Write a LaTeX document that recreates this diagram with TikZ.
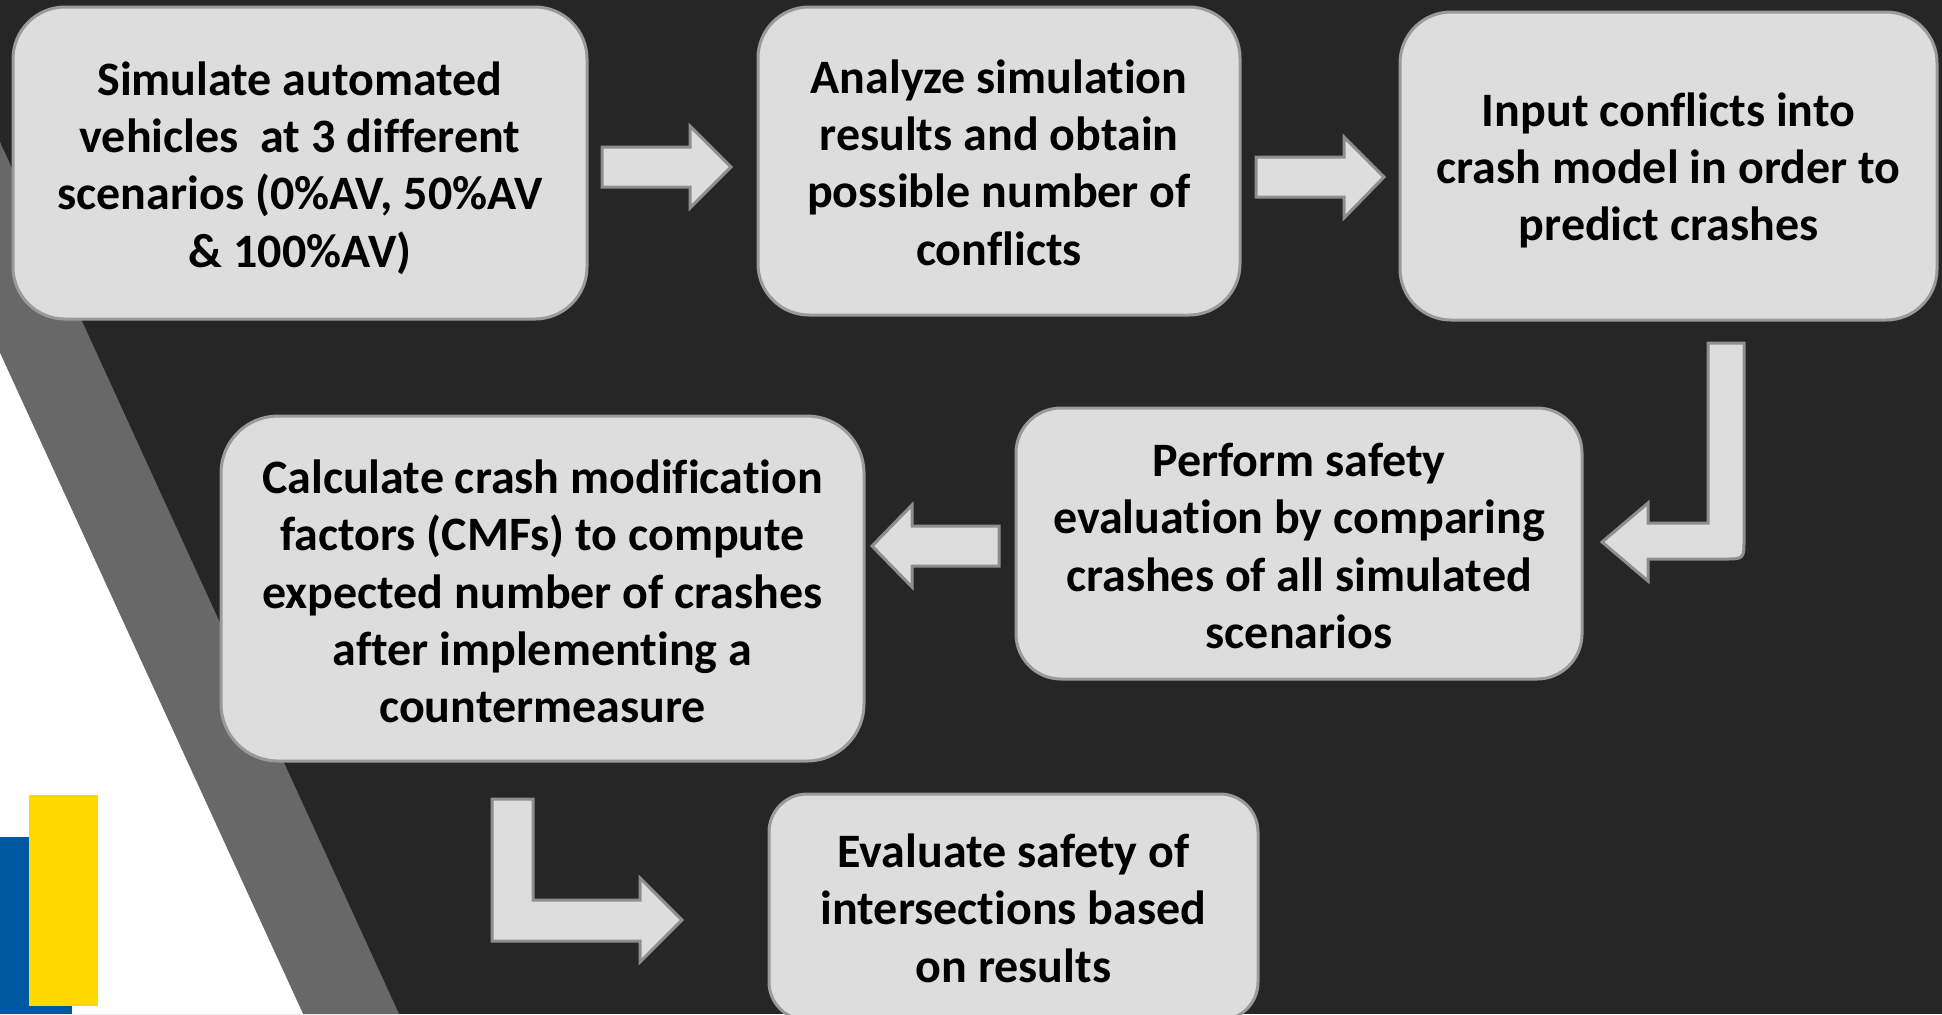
\documentclass[tikz,border=0pt]{standalone}
\usepackage{fontspec}
\setmainfont[Ligatures={NoCommon}]{Carlito}
\definecolor{bg}{HTML}{262626}
\definecolor{stripe}{HTML}{686868}
\definecolor{boxfill}{HTML}{DDDDDD}
\definecolor{boxedge}{HTML}{9A9A9A}
\definecolor{arrowedge}{HTML}{8E8E8E}
\definecolor{logoblue}{HTML}{0058A0}
\definecolor{logoyellow}{HTML}{FFD800}
\tikzset{
  stepbox/.style={draw=boxedge, fill=boxfill, line width=1.5pt, inner sep=0pt},
  steptext/.style={inner sep=0pt, align=center, font=\fontsize{24}{28.7}\selectfont\bfseries, text=black},
  blockarrow/.style={draw=arrowedge, fill=boxfill, line width=1.5pt, line join=miter}
}
\begin{document}
\begin{tikzpicture}[x=0.5pt,y=-0.5pt]
\useasboundingbox (0,0) rectangle (1942,1014);
\clip (0,0) rectangle (1942,1014);
% background
\fill[bg] (0,0) rectangle (1942,1014);
\fill[stripe] (0,142) -- (399,1014) -- (0,1014) -- cycle;
\fill[white] (0,353) -- (303,1014) -- (0,1014) -- cycle;
\fill[logoblue] (0,837) rectangle (72,1014);
\fill[logoyellow] (29,795) rectangle (98,1006);
% boxes
\node[stepbox, rounded corners=26pt, minimum width=287pt, minimum height=156pt] (b1) at (300,163) {};
\node[steptext] (t1) at (300,168)
  {Simulate automated\\vehicles\ \ at 3 different\\scenarios (0\%AV, 50\%AV\\\& 100\%AV)};
\node[stepbox, rounded corners=25.5pt, minimum width=241pt, minimum height=154pt] (b2) at (999,161) {};
\node[steptext] (t2) at (999,162.5)
  {Analyze simulation\\results and obtain\\possible number of\\conflicts};
\node[stepbox, rounded corners=25.5pt, minimum width=268.5pt, minimum height=154pt] (b3) at (1668.5,166) {};
\node[steptext] (t3) at (1668.5,170.5)
  {Input conflicts into\\crash model in order to\\predict crashes};
\node[stepbox, rounded corners=22.5pt, minimum width=283pt, minimum height=135.5pt] (b4) at (1299,543.5) {};
\node[steptext] (t4) at (1299,546)
  {Perform safety\\evaluation by comparing\\crashes of all simulated\\scenarios};
\node[stepbox, rounded corners=28.5pt, minimum width=321.5pt, minimum height=172.5pt] (b5) at (542.5,588.5) {};
\node[steptext] (t5) at (542.5,591.5)
  {Calculate crash modification\\factors (CMFs) to compute\\expected number of crashes\\after implementing a\\countermeasure};
\node[stepbox, rounded corners=19pt, minimum width=244.5pt, minimum height=113pt] (b6) at (1013.5,907) {};
\node[steptext] (t6) at (1013.5,908)
  {Evaluate safety of\\intersections based\\on results};
% block arrows
\draw[blockarrow] (602,147) -- (690,147) -- (690,126) -- (731,167) -- (690,208) -- (690,187) -- (602,187) -- cycle;
\draw[blockarrow] (1256,157) -- (1344,157) -- (1344,137) -- (1384,177) -- (1344,218) -- (1344,197) -- (1256,197) -- cycle;
\draw[blockarrow] (1708,343) -- (1744,343) -- (1744,539) .. controls (1744,559) .. (1724,559) -- (1648,559) -- (1648,581) -- (1602,542) -- (1648,503) -- (1648,523) -- (1708,523) -- cycle;
\draw[blockarrow] (999,526) -- (912,526) -- (912,505) -- (872,546) -- (912,587) -- (912,566) -- (999,566) -- cycle;
\draw[blockarrow] (492,799) -- (533,799) -- (533,900) -- (640,900) -- (640,878) -- (682,920) -- (640,962) -- (640,941) -- (492,941) -- cycle;
\end{tikzpicture}
\end{document}
